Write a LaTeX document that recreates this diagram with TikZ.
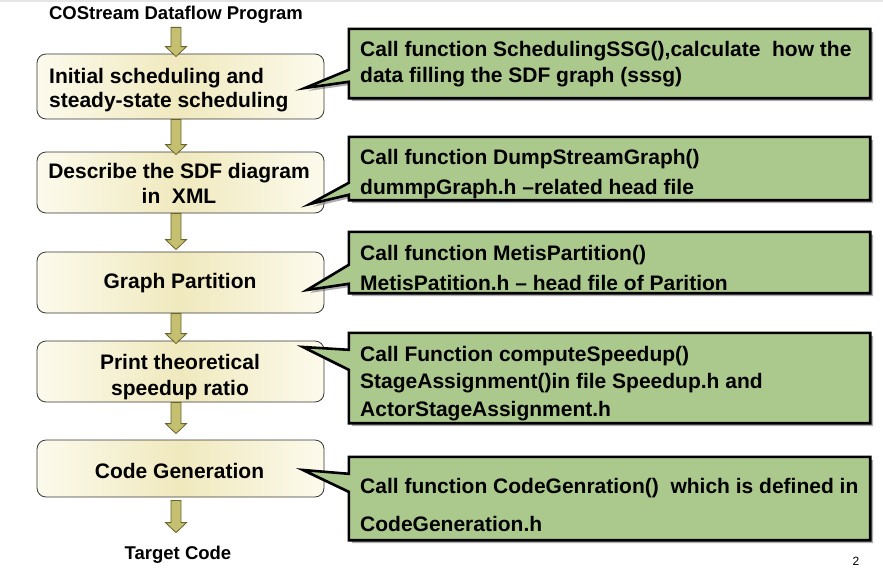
\documentclass[tikz,border=0pt]{standalone}
\usepackage{fontspec}
\setmainfont{Liberation Sans}
\usetikzlibrary{shadows,calc}
\definecolor{callgreen}{RGB}{172,201,141}
\definecolor{boxedge}{RGB}{252,250,236}
\definecolor{boxmid}{RGB}{240,233,190}
\definecolor{arrowfill}{RGB}{197,192,112}
\definecolor{arrowline}{RGB}{105,100,45}
\definecolor{boxline}{RGB}{55,55,55}
\tikzset{
  stepbox/.style={rectangle, rounded corners=9pt, draw=boxline, line width=0.8pt,
    left color=boxedge, right color=boxedge, middle color=boxmid,
    minimum width=287pt, inner sep=0pt},
  boxtext/.style={inner sep=0pt, align=center, font=\bfseries\fontsize{21}{25}\selectfont},
  callbox/.style={rectangle, inner sep=0pt, draw=none, minimum width=521pt},
  calltext/.style={inner sep=0pt, anchor=west, align=left, font=\bfseries\fontsize{21}{#1}\selectfont},
  callshape/.style={fill=callgreen, draw=black, line width=2.6pt, line join=miter,
    drop shadow={shadow xshift=3pt, shadow yshift=-3pt, opacity=0.45, fill=black!70}},
  blockarrow/.style={fill=arrowfill, draw=arrowline, line width=0.8pt, line join=miter},
  plaintext/.style={inner sep=0pt, font=\bfseries\fontsize{18.5}{22}\selectfont},
}
% block arrow from #1 to #2, fixed axis x = 176
\newcommand\blkarrow[2]{%
  \path let \p1=(#1), \p2=(#2) in [blockarrow]
    (171pt,\y1) -- (181pt,\y1) -- (181pt,\y2+10pt) -- (186.5pt,\y2+10pt) --
    (176pt,\y2) -- (165.5pt,\y2+10pt) -- (171pt,\y2+10pt) -- cycle;}
% callout outline: #1 box node, #2 tip, #3/#4 pointer base offsets from top
\newcommand\callpath[4]{%
  \path let \p1=(#1.north west), \p2=(#1.south east), \p3=(#2) in [callshape]
    (\p3) -- (\x1,\y1-#3) -- (\p1) -- (\x2,\y1) -- (\p2) -- (\x1,\y2) --
    (\x1,\y1-#4) -- cycle;}
\begin{document}
\begin{tikzpicture}[x=1pt,y=-1pt]
\useasboundingbox (0,0) rectangle (883,573);
\fill[black!10] (0,0) rectangle (883,2);

% title and target
\node[plaintext] (title) at (176,14.5) {COStream Dataflow Program};
\node[plaintext] (target) at (178,554.5) {Target Code};
\node[inner sep=0pt, font=\fontsize{12}{14}\selectfont] (pagenum) at (856,561) {2};

% left process boxes
\node[stepbox, minimum height=65pt] (b1) at (180.5,86.5) {};
\node[stepbox, minimum height=61pt] (b2) at (180.5,182.5) {};
\node[stepbox, minimum height=61pt] (b3) at (180.5,282.5) {};
\node[stepbox, minimum height=61pt] (b4) at (180.5,371.5) {};
\node[stepbox, minimum height=57pt] (b5) at (180.5,468.5) {};

\node[boxtext, align=left, anchor=west, font=\bfseries\fontsize{21}{24}\selectfont] (b1t) at (49,90)
  {Initial scheduling and\\steady-state scheduling};
\node[boxtext] (b2t) at (179,183.5) {Describe the SDF diagram\\in\ \ XML};
\node[boxtext] (b3t) at (180,283) {Graph Partition};
\node[boxtext, font=\bfseries\fontsize{21}{26}\selectfont] (b4t) at (180,377) {Print theoretical\\speedup ratio};
\node[boxtext] (b5t) at (179.5,471) {Code Generation};

% block arrows
\blkarrow{[yshift=-4pt]title.south}{[yshift=-3pt]b1.north}
\blkarrow{b1.south}{[yshift=-3pt]b2.north}
\blkarrow{b2.south}{[yshift=2pt]b3.north}
\blkarrow{b3.south}{[yshift=-3pt]b4.north}
\blkarrow{b4.south}{[yshift=6pt]b5.north}
\blkarrow{[yshift=-3pt]b5.south}{[yshift=13pt]target.north}

% callouts
\node[callbox, minimum height=69pt] (c1) at (609.5,63.5) {};
\node[callbox, minimum height=63pt] (c2) at (609.5,168.5) {};
\node[callbox, minimum height=61pt] (c3) at (609.5,262.5) {};
\node[callbox, minimum height=90pt] (c4) at (609.5,378) {};
\node[callbox, minimum height=83pt] (c5) at (609.5,498.5) {};

\coordinate (tip1) at (305,88);
\coordinate (tip2) at (310,204);
\coordinate (tip3) at (307,290);
\coordinate (tip4) at (303,347);
\coordinate (tip5) at (303,470);

\callpath{c1}{tip1}{41pt}{53pt}
\callpath{c2}{tip2}{46pt}{58pt}
\callpath{c3}{tip3}{33pt}{52pt}
\callpath{c4}{tip4}{17pt}{37pt}
\callpath{c5}{tip5}{17pt}{35pt}

\node[calltext=26] (c1t) at (360,64)
  {Call function SchedulingSSG(),calculate\ \ how the\\data filling the SDF graph (sssg)};
\node[calltext=30] (c2t) at (360,174)
  {Call function DumpStreamGraph()\\dummpGraph.h --related head file};
\node[calltext=30] (c3t) at (360,268)
  {Call function MetisPartition()\\MetisPatition.h -- head file of Parition};
\node[calltext=27.5] (c4t) at (360,383.5)
  {Call Function computeSpeedup()\\StageAssignment()in file Speedup.h and\\ActorStageAssignment.h};
\node[calltext=38] (c5t) at (360,505)
  {Call function CodeGenration()\ \ which is defined in\\CodeGeneration.h};
\end{tikzpicture}
\end{document}
